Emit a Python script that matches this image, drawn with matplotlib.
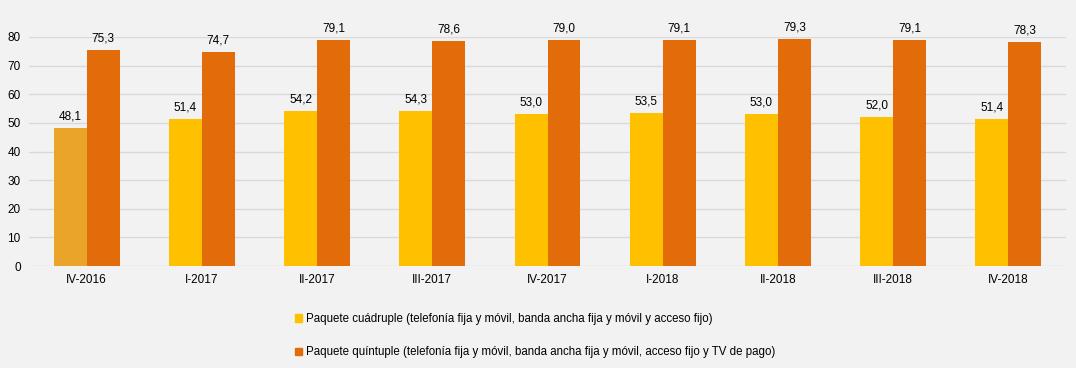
import matplotlib.pyplot as plt
from matplotlib.patches import Patch
import numpy as np

plt.rcParams['font.family'] = ['Liberation Sans', 'DejaVu Sans']

# Datos
periodos = ['IV-2016', 'I-2017', 'II-2017', 'III-2017', 'IV-2017',
            'I-2018', 'II-2018', 'III-2018', 'IV-2018']
cuadruple = [48.1, 51.4, 54.2, 54.3, 53.0, 53.5, 53.0, 52.0, 51.4]
quintuple = [75.3, 74.7, 79.1, 78.6, 79.0, 79.1, 79.3, 79.1, 78.3]

lbl_cuad = 'Paquete cuádruple (telefonía fija y móvil, banda ancha fija y móvil y acceso fijo)'
lbl_quin = 'Paquete quíntuple (telefonía fija y móvil, banda ancha fija y móvil, acceso fijo y TV de pago)'

bg = '#F2F2F2'
c_cuad = '#FFC000'
c_cuad_first = '#EBA42A'
c_quin = '#E36C0A'

fig = plt.figure(figsize=(10.76, 3.68), dpi=100, facecolor=bg)
ax = fig.add_axes([0.027, 0.277, 0.9637, 0.6225], facecolor=bg)

x = np.arange(len(periodos))
w = 0.286
colores = [c_cuad_first] + [c_cuad] * (len(periodos) - 1)
b1 = ax.bar(x - w / 2, cuadruple, w, color=colores, zorder=3)
b2 = ax.bar(x + w / 2, quintuple, w, color=c_quin, zorder=3)

for bars, vals in ((b1, cuadruple), (b2, quintuple)):
    for b, v in zip(bars, vals):
        ax.annotate(f'{v:.1f}'.replace('.', ','),
                    (b.get_x() + b.get_width() / 2, v),
                    xytext=(0, 4), textcoords='offset points',
                    ha='center', va='bottom', fontsize=8.5, color='#000000',
                    annotation_clip=False)

ax.set_xlim(-0.5, len(periodos) - 0.5)
ax.set_ylim(0, 80)
ax.set_yticks(range(0, 81, 10))
ax.set_xticks(x)
ax.set_xticklabels(periodos)
ax.tick_params(axis='both', length=0, labelsize=8.5, colors='#000000')
ax.tick_params(axis='y', pad=6)
ax.tick_params(axis='x', pad=6)
ax.grid(axis='y', color='#D9D9D9', linewidth=1, zorder=0)
for s in ax.spines.values():
    s.set_visible(False)

handles = [Patch(color=c_cuad, label=lbl_cuad), Patch(color=c_quin, label=lbl_quin)]
fig.legend(handles=handles, loc='upper left', bbox_to_anchor=(0.270, 0.162),
           frameon=False, fontsize=8.3, handlelength=0.6, handleheight=0.6,
           handletextpad=0.3, labelspacing=1.85, borderaxespad=0)

fig.savefig('out.png', dpi=100, facecolor=bg)
